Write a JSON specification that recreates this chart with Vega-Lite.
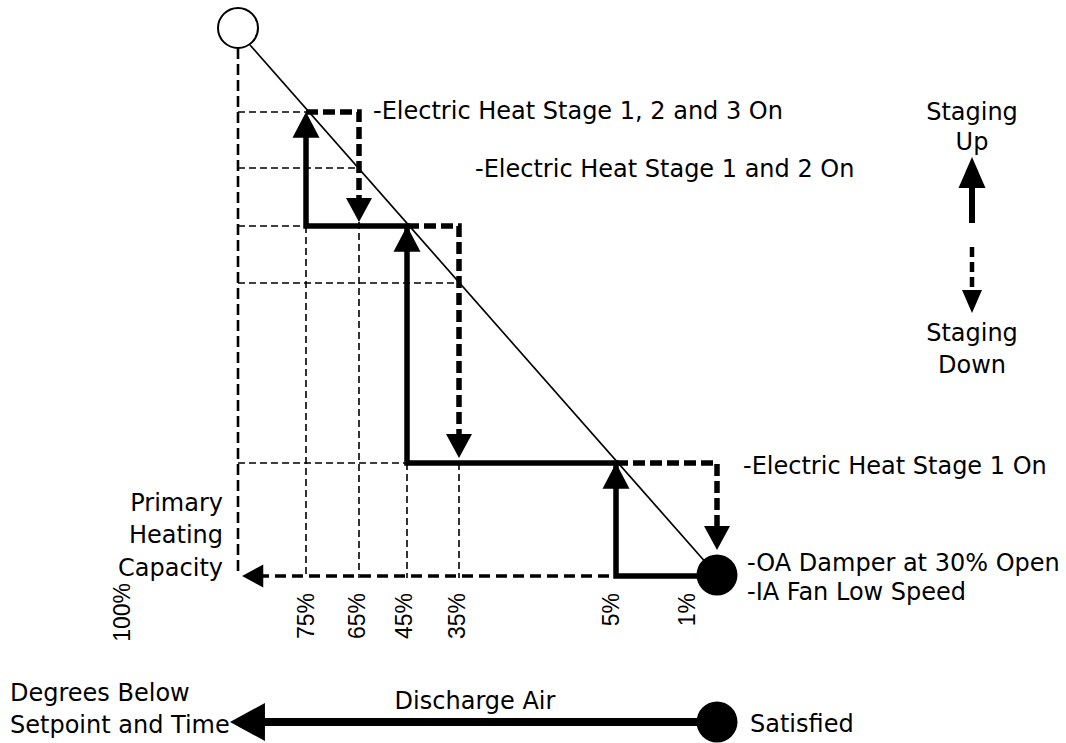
{
  "$schema": "https://vega.github.io/schema/vega-lite/v6.json",
  "width": 1066,
  "height": 743,
  "padding": 0,
  "autosize": "none",
  "background": "white",
  "config": {"view": {"stroke": null}},
  "encoding": {
    "x": {"field": "x", "type": "quantitative", "scale": {"domain": [0, 1066], "nice": false, "zero": false}, "axis": null},
    "y": {"field": "y", "type": "quantitative", "scale": {"domain": [0, 743], "nice": false, "zero": false, "reverse": true}, "axis": null}
  },
  "layer": [
    {
      "data": {"values": [
        {"x": 238, "y": 112, "x2": 306, "y2": 112},
        {"x": 238, "y": 168, "x2": 359, "y2": 168},
        {"x": 238, "y": 226, "x2": 306, "y2": 226},
        {"x": 238, "y": 283, "x2": 459, "y2": 283},
        {"x": 238, "y": 463, "x2": 407, "y2": 463},
        {"x": 306, "y": 226, "x2": 306, "y2": 578},
        {"x": 359, "y": 222, "x2": 359, "y2": 578},
        {"x": 407, "y": 463, "x2": 407, "y2": 578},
        {"x": 459, "y": 463, "x2": 459, "y2": 578}
      ]},
      "mark": {"type": "rule", "color": "black", "strokeWidth": 1.6, "strokeDash": [7, 4]},
      "encoding": {"x2": {"field": "x2"}, "y2": {"field": "y2"}}
    },
    {
      "data": {"values": [{"x": 238, "y": 48, "x2": 238, "y2": 576}]},
      "mark": {"type": "rule", "color": "black", "strokeWidth": 2.6, "strokeDash": [11, 5]},
      "encoding": {"x2": {"field": "x2"}, "y2": {"field": "y2"}}
    },
    {
      "data": {"values": [{"x": 258, "y": 576, "x2": 616, "y2": 576}]},
      "mark": {"type": "rule", "color": "black", "strokeWidth": 3.5, "strokeDash": [11, 6]},
      "encoding": {"x2": {"field": "x2"}, "y2": {"field": "y2"}}
    },
    {
      "data": {"values": [{"x": 250, "y": 45, "x2": 708, "y2": 565}]},
      "mark": {"type": "rule", "color": "black", "strokeWidth": 1.7},
      "encoding": {"x2": {"field": "x2"}, "y2": {"field": "y2"}}
    },
    {
      "data": {"values": [
        {"seg": "a", "i": 1, "x": 306, "y": 112},
        {"seg": "a", "i": 2, "x": 359, "y": 112},
        {"seg": "a", "i": 3, "x": 359, "y": 202},
        {"seg": "b", "i": 1, "x": 407, "y": 226},
        {"seg": "b", "i": 2, "x": 459, "y": 226},
        {"seg": "b", "i": 3, "x": 459, "y": 437},
        {"seg": "c", "i": 1, "x": 616, "y": 463},
        {"seg": "c", "i": 2, "x": 717, "y": 463},
        {"seg": "c", "i": 3, "x": 717, "y": 530}
      ]},
      "mark": {"type": "line", "color": "black", "strokeWidth": 5.5, "strokeDash": [12, 5], "strokeJoin": "miter"},
      "encoding": {"detail": {"field": "seg"}, "order": {"field": "i", "type": "quantitative"}}
    },
    {
      "data": {"values": [
        {"i": 1, "x": 717, "y": 576},
        {"i": 2, "x": 616, "y": 576},
        {"i": 3, "x": 616, "y": 463},
        {"i": 4, "x": 407, "y": 463},
        {"i": 5, "x": 407, "y": 226},
        {"i": 6, "x": 306, "y": 226},
        {"i": 7, "x": 306, "y": 125}
      ]},
      "mark": {"type": "line", "color": "black", "strokeWidth": 5.5, "strokeJoin": "miter"},
      "encoding": {"order": {"field": "i", "type": "quantitative"}}
    },
    {
      "data": {"values": [{"x": 972, "y": 223, "x2": 972, "y2": 182}]},
      "mark": {"type": "rule", "color": "black", "strokeWidth": 6},
      "encoding": {"x2": {"field": "x2"}, "y2": {"field": "y2"}}
    },
    {
      "data": {"values": [{"x": 972, "y": 247, "x2": 972, "y2": 294}]},
      "mark": {"type": "rule", "color": "black", "strokeWidth": 4.5, "strokeDash": [10, 5]},
      "encoding": {"x2": {"field": "x2"}, "y2": {"field": "y2"}}
    },
    {
      "data": {"values": [{"x": 255, "y": 722, "x2": 717, "y2": 722}]},
      "mark": {"type": "rule", "color": "black", "strokeWidth": 8},
      "encoding": {"x2": {"field": "x2"}, "y2": {"field": "y2"}}
    },
    {
      "data": {"values": [{"x": 306, "y": 112}, {"x": 407, "y": 226}, {"x": 616, "y": 463}]},
      "mark": {"type": "point", "shape": "M0,0L-1,1.9L1,1.9Z", "size": 729, "filled": true, "color": "black", "opacity": 1, "strokeWidth": 0}
    },
    {
      "data": {"values": [{"x": 359, "y": 222}, {"x": 459, "y": 458}, {"x": 717, "y": 550}]},
      "mark": {"type": "point", "shape": "M0,0L-1,-1.85L1,-1.85Z", "size": 676, "filled": true, "color": "black", "opacity": 1, "strokeWidth": 0}
    },
    {
      "data": {"values": [{"x": 242, "y": 576}]},
      "mark": {"type": "point", "shape": "M0,0L1.85,-1L1.85,1Z", "size": 529, "filled": true, "color": "black", "opacity": 1, "strokeWidth": 0}
    },
    {
      "data": {"values": [{"x": 972, "y": 157}]},
      "mark": {"type": "point", "shape": "M0,0L-1,2.3L1,2.3Z", "size": 729, "filled": true, "color": "black", "opacity": 1, "strokeWidth": 0}
    },
    {
      "data": {"values": [{"x": 972, "y": 313}]},
      "mark": {"type": "point", "shape": "M0,0L-1,-2.3L1,-2.3Z", "size": 400, "filled": true, "color": "black", "opacity": 1, "strokeWidth": 0}
    },
    {
      "data": {"values": [{"x": 230, "y": 722}]},
      "mark": {"type": "point", "shape": "M0,0L1.84,-1L1.84,1Z", "size": 1444, "filled": true, "color": "black", "opacity": 1, "strokeWidth": 0}
    },
    {
      "data": {"values": [{"x": 717, "y": 575}, {"x": 717, "y": 722}]},
      "mark": {"type": "point", "shape": "circle", "size": 1681, "filled": true, "color": "black", "opacity": 1, "strokeWidth": 0}
    },
    {
      "data": {"values": [{"x": 238, "y": 28}]},
      "mark": {"type": "point", "shape": "circle", "size": 1600, "fill": "white", "fillOpacity": 1, "stroke": "black", "strokeWidth": 2, "opacity": 1}
    },
    {
      "data": {"values": [
        {"x": 373, "y": 111.5, "t": "-Electric Heat Stage 1, 2 and 3 On"},
        {"x": 475, "y": 169.5, "t": "-Electric Heat Stage 1 and 2 On"},
        {"x": 743, "y": 466.5, "t": "-Electric Heat Stage 1 On"},
        {"x": 747, "y": 563.5, "t": "-OA Damper at 30% Open"},
        {"x": 747, "y": 592.5, "t": "-IA Fan Low Speed"},
        {"x": 10, "y": 693.5, "t": "Degrees Below"},
        {"x": 10, "y": 725.5, "t": "Setpoint and Time"},
        {"x": 750, "y": 724.5, "t": "Satisfied"}
      ]},
      "mark": {"type": "text", "align": "left", "baseline": "middle", "font": "DejaVu Sans", "fontSize": 24, "color": "black"},
      "encoding": {"text": {"field": "t"}}
    },
    {
      "data": {"values": [
        {"x": 972, "y": 112.5, "t": "Staging"},
        {"x": 972, "y": 142.5, "t": "Up"},
        {"x": 972, "y": 333.5, "t": "Staging"},
        {"x": 972, "y": 365.5, "t": "Down"},
        {"x": 475, "y": 701.5, "t": "Discharge Air"}
      ]},
      "mark": {"type": "text", "align": "center", "baseline": "middle", "font": "DejaVu Sans", "fontSize": 24, "color": "black"},
      "encoding": {"text": {"field": "t"}}
    },
    {
      "data": {"values": [
        {"x": 223, "y": 503.5, "t": "Primary"},
        {"x": 223, "y": 535.5, "t": "Heating"},
        {"x": 223, "y": 568.5, "t": "Capacity"}
      ]},
      "mark": {"type": "text", "align": "right", "baseline": "middle", "font": "DejaVu Sans", "fontSize": 24, "color": "black"},
      "encoding": {"text": {"field": "t"}}
    },
    {
      "data": {"values": [
        {"x": 123, "y": 583, "t": "100%"},
        {"x": 307, "y": 593, "t": "75%"},
        {"x": 358, "y": 593, "t": "65%"},
        {"x": 405, "y": 593, "t": "45%"},
        {"x": 458, "y": 593, "t": "35%"},
        {"x": 612, "y": 593, "t": "5%"},
        {"x": 688, "y": 593, "t": "1%"}
      ]},
      "mark": {"type": "text", "align": "right", "baseline": "middle", "angle": 270, "font": "Liberation Sans", "fontSize": 23, "color": "black"},
      "encoding": {"text": {"field": "t"}}
    }
  ]
}
